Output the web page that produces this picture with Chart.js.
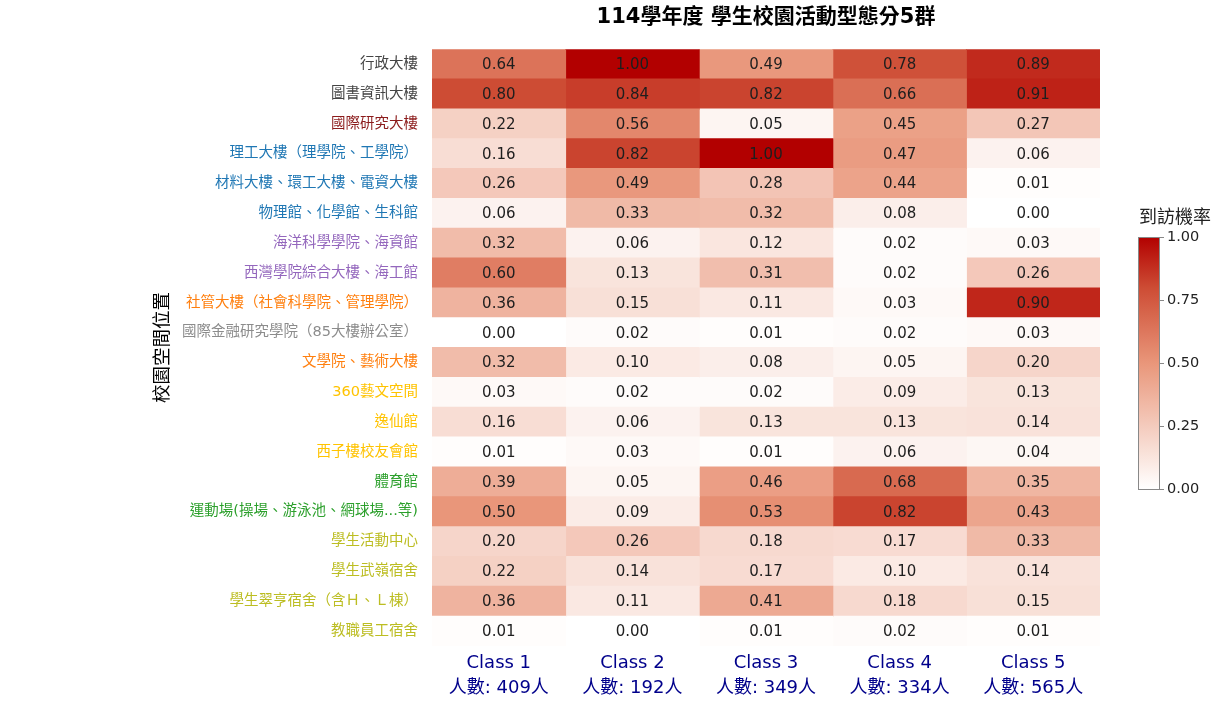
<!DOCTYPE html>
<html>
<head>
<meta charset="utf-8">
<script src="https://cdn.jsdelivr.net/npm/chart.js@4"></script>
<style>
html,body{margin:0;padding:0;background:#fff;}
#wrap{width:1230px;height:725px;position:relative;}
</style>
</head>
<body>
<div id="wrap"><canvas id="c" width="1230" height="725"></canvas></div>
<script>
const titleText = '114學年度 學生校園活動型態分5群';
const yAxisTitle = '校園空間位置';
const colorbarTitle = '到訪機率';
const locations = [
  '行政大樓','圖書資訊大樓','國際研究大樓','理工大樓（理學院、工學院）','材料大樓、環工大樓、電資大樓',
  '物理館、化學館、生科館','海洋科學學院、海資館','西灣學院綜合大樓、海工館','社管大樓（社會科學院、管理學院）',
  '國際金融研究學院（85大樓辦公室）','文學院、藝術大樓','360藝文空間','逸仙館','西子樓校友會館','體育館',
  '運動場(操場、游泳池、網球場...等)','學生活動中心','學生武嶺宿舍','學生翠亨宿舍（含Ｈ、Ｌ棟）','教職員工宿舍'
];
const locationColors = [
  '#444444','#444444','#8c1c1c','#1f77b4','#1f77b4','#1f77b4','#9467bd','#9467bd','#ff7f0e',
  '#8c8c8c','#ff7f0e','#ffc300','#ffc300','#ffc300','#2ca02c','#2ca02c','#bcbd22','#bcbd22','#bcbd22','#bcbd22'
];
const classNames = ['Class 1','Class 2','Class 3','Class 4','Class 5'];
const classCounts = [409, 192, 349, 334, 565];
const class1 = [0.64,0.80,0.22,0.16,0.26,0.06,0.32,0.60,0.36,0.00,0.32,0.03,0.16,0.01,0.39,0.50,0.20,0.22,0.36,0.01];
const class2 = [1.00,0.84,0.56,0.82,0.49,0.33,0.06,0.13,0.15,0.02,0.10,0.02,0.06,0.03,0.05,0.09,0.26,0.14,0.11,0.00];
const class3 = [0.49,0.82,0.05,1.00,0.28,0.32,0.12,0.31,0.11,0.01,0.08,0.02,0.13,0.01,0.46,0.53,0.18,0.17,0.41,0.01];
const class4 = [0.78,0.66,0.45,0.47,0.44,0.08,0.02,0.02,0.03,0.02,0.05,0.09,0.13,0.06,0.68,0.82,0.17,0.10,0.18,0.02];
const class5 = [0.89,0.91,0.27,0.06,0.01,0.00,0.03,0.26,0.90,0.03,0.20,0.13,0.14,0.04,0.35,0.43,0.33,0.14,0.15,0.01];
const colorbarTicks = [0, 0.25, 0.5, 0.75, 1];

const classValues = [class1, class2, class3, class4, class5];
const FONT = "'DejaVu Sans','Noto Sans CJK TC',sans-serif";

const scaleStops = [[0,[255,255,255]],[0.5,[233,150,122]],[0.8,[205,76,52]],[1,[178,0,0]]];
function colorFor(v){
  for(let i=1;i<scaleStops.length;i++){
    const [p1,c1]=scaleStops[i]; const [p0,c0]=scaleStops[i-1];
    if(v<=p1){
      const t=(v-p0)/(p1-p0);
      return 'rgb('+c0.map((c,k)=>Math.round(c+(c1[k]-c)*t)).join(',')+')';
    }
  }
  return 'rgb(178,0,0)';
}

const datasets = classValues.map((vals, j) => ({
  label: classNames[j],
  data: vals.map(() => [j, j + 1]),
  backgroundColor: vals.map(colorFor),
  borderWidth: 0,
  grouped: false,
  barPercentage: 1,
  categoryPercentage: 1,
  inflateAmount: 0.5
}));

const cellLabels = {
  id: 'cellLabels',
  afterDatasetsDraw(chart){
    const ctx = chart.ctx;
    ctx.save();
    ctx.font = '15px ' + FONT;
    ctx.fillStyle = '#1e1e1e';
    ctx.textAlign = 'center';
    ctx.textBaseline = 'middle';
    classValues.forEach((vals, j) => {
      const meta = chart.getDatasetMeta(j);
      meta.data.forEach((el, r) => {
        const p = el.getProps(['x','y','base'], true);
        ctx.fillText(vals[r].toFixed(2), (p.x + p.base) / 2, p.y + 1);
      });
    });
    ctx.restore();
  }
};

const colorbar = {
  id: 'colorbar',
  afterDraw(chart){
    const ctx = chart.ctx;
    const x0 = 1138, x1 = 1160, yTop = 237, yBot = 489;
    ctx.save();
    const g = ctx.createLinearGradient(0, yBot, 0, yTop);
    for (let k = 0; k <= 20; k++) { g.addColorStop(k / 20, colorFor(k / 20)); }
    ctx.fillStyle = g;
    ctx.fillRect(x0, yTop, x1 - x0, yBot - yTop);
    ctx.strokeStyle = '#888';
    ctx.lineWidth = 1;
    ctx.strokeRect(x0 + 0.5, yTop + 0.5, x1 - x0 - 1, yBot - yTop);
    ctx.font = '18px ' + FONT;
    ctx.fillStyle = '#222';
    ctx.textAlign = 'center';
    ctx.textBaseline = 'middle';
    ctx.fillText(colorbarTitle, 1175, 218);
    ctx.font = '14.5px ' + FONT;
    ctx.textAlign = 'left';
    colorbarTicks.forEach(t => {
      const y = yBot - t * (yBot - yTop);
      ctx.beginPath();
      ctx.moveTo(x1, Math.round(y) + 0.5);
      ctx.lineTo(x1 + 4, Math.round(y) + 0.5);
      ctx.stroke();
      ctx.fillText(t.toFixed(2), 1167, y);
    });
    ctx.restore();
  }
};

new Chart(document.getElementById('c'), {
  type: 'bar',
  data: { labels: locations, datasets },
  options: {
    indexAxis: 'y',
    responsive: false,
    animation: false,
    layout: { padding: { left: 148, right: 130, top: 0, bottom: 0 } },
    plugins: {
      legend: { display: false },
      tooltip: { enabled: false },
      title: {
        display: true,
        text: titleText,
        fullSize: false,
        color: '#000',
        font: { family: FONT, size: 21, weight: 'bold' },
        padding: { top: 5, bottom: 19 }
      }
    },
    scales: {
      y: {
        type: 'category',
        grid: { display: false, drawTicks: false },
        border: { display: false },
        ticks: {
          padding: 14,
          autoSkip: false,
          font: { family: FONT, size: 14.5 },
          color: (c) => locationColors[c.index]
        },
        title: {
          display: true,
          text: yAxisTitle,
          color: '#000',
          font: { family: FONT, size: 18.5 }
        },
        afterFit: (s) => { s.width = 284; }
      },
      x: {
        type: 'linear',
        min: 0,
        max: classNames.length,
        grid: { display: false, drawTicks: false },
        border: { display: false },
        afterBuildTicks: (s) => { s.ticks = classNames.map((_, i) => ({ value: i + 0.5 })); },
        ticks: {
          autoSkip: false,
          maxRotation: 0,
          padding: 5,
          color: '#00008b',
          font: { family: FONT, size: 18, lineHeight: 1.38 },
          callback: (v, i) => [classNames[i], '人數: ' + classCounts[i] + '人']
        },
        afterFit: (s) => { s.height = 79; }
      }
    }
  },
  plugins: [cellLabels, colorbar]
});
</script>
</body>
</html>
